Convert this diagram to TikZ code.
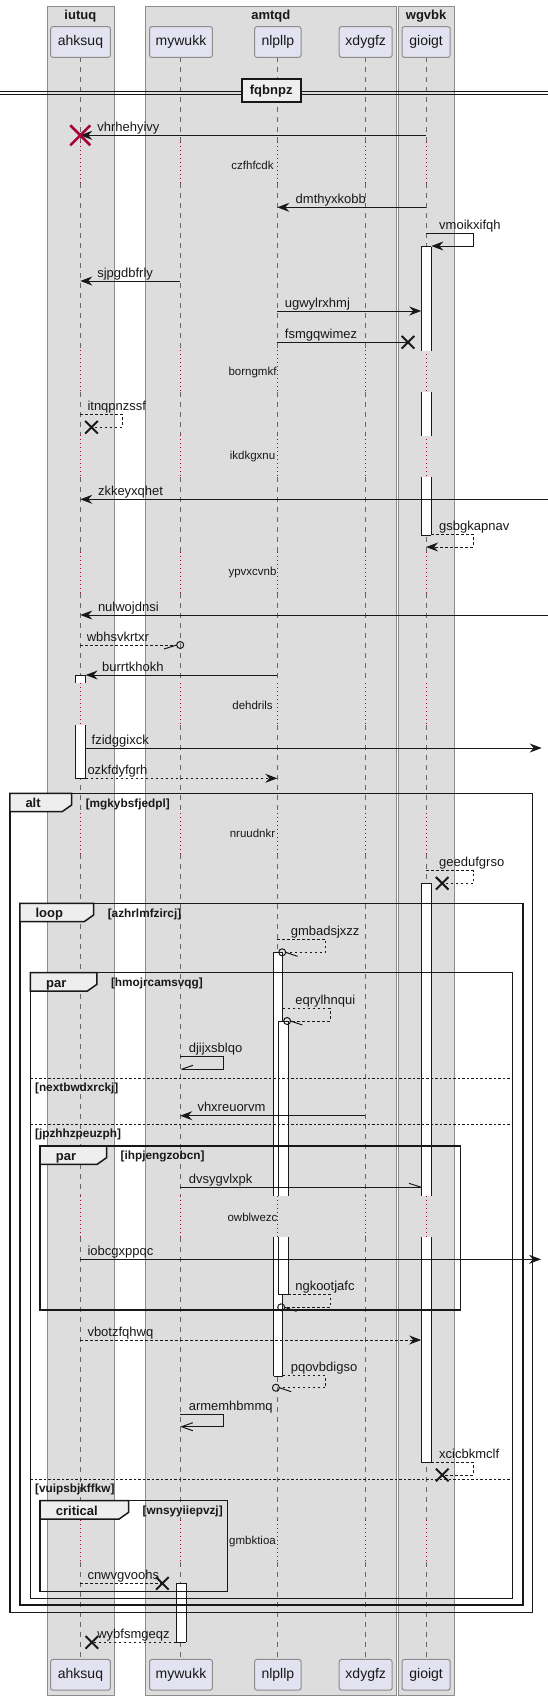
\documentclass[tikz,border=0pt]{standalone}
\usepackage{fontspec}
\setmainfont{Liberation Sans}
\usetikzlibrary{arrows.meta}
\definecolor{boxgray}{HTML}{DDDDDD}
\definecolor{boxline}{HTML}{8C8C8C}
\definecolor{partfill}{HTML}{E2E2F0}
\definecolor{partline}{HTML}{8C8C8C}
\definecolor{tabfill}{HTML}{EEEEEE}
\definecolor{delayred}{HTML}{A80036}
\definecolor{lifegray}{HTML}{666666}
\definecolor{ink}{HTML}{181818}
\newcommand{\fmsg}{\fontsize{13}{15}\selectfont}
\newcommand{\fdel}{\fontsize{11.5}{13}\selectfont}
\newcommand{\fgrd}{\fontsize{11.8}{13}\selectfont\bfseries}
\newcommand{\fttl}{\fontsize{13}{15}\selectfont\bfseries}
\newcommand{\fpart}{\fontsize{14}{16}\selectfont}
% X mark: name, x, y, half size, style
\newcommand{\xmk}[5]{\coordinate (#1) at (#2,#3);
  \draw[#5] ([shift={(-#4,-#4)}]#1) -- ([shift={(#4,#4)}]#1) ([shift={(-#4,#4)}]#1) -- ([shift={(#4,-#4)}]#1);}
% group frame: name, x0, y0, x1, y1, xt, title, guard
\newcommand{\grpfrm}[8]{%
  \draw[frm] (#2,#3) rectangle (#4,#5);
  \draw[tabshape] (#2,#3) -- (#6,#3) -- (#6,{#3+11.7}) -- ({#6-9.5},{#3+18.4}) -- (#2,{#3+18.4}) -- cycle;
  \node[anchor=base west,inner sep=0pt,font=\fttl,text=ink] (#1t) at ({#2+15.5},{#3+14.6}) {#7};
  \node[anchor=base west,inner sep=0pt,font=\fgrd,text=ink] (#1g) at ({#6+14},{#3+13.8}) {#8};}
% activation bar segment: x1, x2, ytop, ybot, top closed?, bottom closed?
\newcommand{\barseg}[6]{%
  \fill[white] (#1,#3) rectangle (#2,#4);
  \draw[barline] (#1,#3) -- (#1,#4) (#2,#3) -- (#2,#4);
  \ifnum#5=1 \draw[barline] (#1,#3) -- (#2,#3);\fi
  \ifnum#6=1 \draw[barline] (#1,#4) -- (#2,#4);\fi}
\begin{document}
\begin{tikzpicture}[x=1pt,y=-1pt,
  msg/.style={draw=ink,line width=1pt},
  dmsg/.style={msg,dash pattern=on 2.5pt off 2.5pt},
  head/.style={-{Stealth[length=12pt,width=9pt,inset=4pt]}},
  lbl/.style={anchor=base west,inner sep=0pt,font=\fmsg,text=ink},
  dlbl/.style={anchor=center,inner sep=0pt,font=\fdel,text=ink},
  part/.style={draw=partline,fill=partfill,rounded corners=2.5pt,line width=1pt,minimum height=30.8pt,inner sep=0pt,font=\fpart,text=ink},
  grpbox/.style={draw=boxline,fill=boxgray,line width=1pt,inner sep=0pt,anchor=north west},
  life/.style={draw=lifegray,line width=0.8pt,dash pattern=on 5pt off 5pt},
  dly/.style={draw=delayred,line width=1pt,dash pattern=on 1pt off 3pt},
  barline/.style={draw=ink,line width=1pt},
  frm/.style={draw=ink,line width=1.5pt},
  tabshape/.style={draw=ink,fill=tabfill,line width=1.5pt},
  sep/.style={draw=ink,line width=1pt,dash pattern=on 2.5pt off 2pt},
  xblack/.style={draw=ink,line width=2pt},
  xred/.style={draw=delayred,line width=2.5pt},
  oend/.style={draw=ink,line width=1pt},
]
\useasboundingbox (0,0) rectangle (548,1700);
\fill[white] (0,0) rectangle (548,1700);

% ---------- participant boxes ----------
\node[grpbox,minimum width=67.7pt,minimum height=1689.3pt] (bxI) at (46.5,6) {};
\node[grpbox,minimum width=251.1pt,minimum height=1689.3pt] (bxA) at (145.3,6) {};
\node[grpbox,minimum width=55.9pt,minimum height=1689.3pt] (bxW) at (398.2,6) {};
\node[anchor=base,inner sep=0pt,font=\fttl,text=ink] (tI) at (80.35,19.6) {iutuq};
\node[anchor=base,inner sep=0pt,font=\fttl,text=ink] (tA) at (270.85,19.6) {amtqd};
\node[anchor=base,inner sep=0pt,font=\fttl,text=ink] (tW) at (426.15,19.6) {wgvbk};

% ---------- lifelines ----------
\foreach \lx in {80.3,180.2,277.3,365.3,426.1}{
  \foreach \ya/\yb in {57.3/141.7,183.3/350,391.7/435,477.3/551.7,593.3/683.3,725/812.5,854/1195.7,1237.3/1520,1561.7/1659.3}
    \draw[life] (\lx,\ya) -- (\lx,\yb);
  \foreach \ya/\yb in {141.7/183.3,350/391.7,435/477.3,551.7/593.3,683.3/725,812.5/854,1195.7/1237.3,1520/1561.7}
    \draw[dly] (\lx,\ya) -- (\lx,\yb);
}

% ---------- delay texts ----------
\node[dlbl] (d1) at (252.5,165) {czfhfcdk};
\node[dlbl] (d2) at (252.5,372.7) {borngmkf};
\node[dlbl] (d3) at (252.5,456.7) {ikdkgxnu};
\node[dlbl] (d4) at (252.5,572.7) {ypvxcvnb};
\node[dlbl] (d5) at (252.5,705) {dehdrils};
\node[dlbl] (d6) at (252.5,833.3) {nruudnkr};
\node[dlbl] (d7) at (252.5,1217.3) {owblwezc};
\node[dlbl] (d8) at (252.5,1541.7) {gmbktioa};

% ---------- divider ----------
\coordinate (dvL) at (0,91); \coordinate (dvR) at (548,91);
\coordinate (dvL2) at (0,94.2); \coordinate (dvR2) at (548,94.2);
\draw[ink,line width=1pt] (dvL) -- (dvR) (dvL2) -- (dvR2);
\node[draw=ink,fill=tabfill,line width=2pt,minimum width=59pt,minimum height=23pt,inner sep=0pt,font=\fttl,text=ink] (dv) at (271.2,90.8) {fqbnpz};

% ---------- activation bars ----------
\barseg{421.2}{431.4}{246.7}{350.7}{1}{0}
\barseg{421.2}{431.4}{392}{435.7}{0}{0}
\barseg{421.2}{431.4}{477.3}{535}{0}{1}
\barseg{75.4}{85.6}{675}{683.3}{1}{0}
\barseg{75.4}{85.6}{725}{778.3}{0}{1}
\barseg{421.2}{431.4}{883.3}{1195.7}{1}{0}
\barseg{421.2}{431.4}{1237.3}{1462.7}{0}{1}
\barseg{273.5}{282.9}{952.3}{1195.7}{1}{0}
\barseg{273.5}{282.9}{1237.3}{1376}{0}{1}
\barseg{278.4}{288.2}{1021}{1195.7}{1}{0}
\barseg{278.4}{288.2}{1237.3}{1294.3}{0}{1}
\barseg{176.4}{186.2}{1583.3}{1642}{1}{1}

% ---------- frames ----------
\grpfrm{fa}{9.8}{793.3}{532.7}{1612.7}{71.6}{alt}{[mgkybsfjedpl]}
\grpfrm{fl}{19.9}{903.3}{522.9}{1605}{93.6}{loop}{[azhrlmfzircj]}
\grpfrm{fp}{30.4}{972.7}{512.4}{1598.3}{96.8}{par}{[hmojrcamsvqg]}
\coordinate (s1a) at (30.4,1078.3); \coordinate (s1b) at (512.4,1078.3);
\draw[sep] (s1a) -- (s1b);
\node[anchor=base west,inner sep=0pt,font=\fgrd,text=ink] (s1t) at (34.9,1091) {[nextbwdxrckj]};
\coordinate (s2a) at (30.4,1124.3); \coordinate (s2b) at (512.4,1124.3);
\draw[sep] (s2a) -- (s2b);
\node[anchor=base west,inner sep=0pt,font=\fgrd,text=ink] (s2t) at (34.9,1137) {[jpzhhzpeuzph]};
\coordinate (s3a) at (30.4,1479.3); \coordinate (s3b) at (512.4,1479.3);
\draw[sep] (s3a) -- (s3b);
\node[anchor=base west,inner sep=0pt,font=\fgrd,text=ink] (s3t) at (34.9,1492) {[vuipsbjkffkw]};
\grpfrm{fi}{40.2}{1146}{460.3}{1310}{106.5}{par}{[ihpjengzobcn]}
\grpfrm{fc}{40.2}{1500.7}{227.7}{1591.3}{128.5}{critical}{[wnsyyiiepvzj]}

% ---------- messages ----------
% 1
\coordinate (m1a) at (426.1,135.3); \coordinate (m1b) at (80.3,135.3);
\draw[msg,head] (m1a) -- (m1b);
\node[lbl] (l1) at (97.1,131.3) {vhrhehyivy};
\xmk{x1}{80.3}{135.3}{10}{xred}
% 2
\coordinate (m2a) at (426.1,207.3); \coordinate (m2b) at (277.3,207.3);
\draw[msg,head] (m2a) -- (m2b);
\node[lbl] (l2) at (295.5,203.3) {dmthyxkobb};
% 3
\coordinate (m3a) at (426.1,233.3); \coordinate (m3b) at (431.4,246);
\draw[msg,head] (m3a) -- (473.3,233.3) -- (473.3,246) -- (m3b);
\node[lbl] (l3) at (439,229.3) {vmoikxifqh};
% 4
\coordinate (m4a) at (180.2,281); \coordinate (m4b) at (80.3,281);
\draw[msg,head] (m4a) -- (m4b);
\node[lbl] (l4) at (97.1,277) {sjpgdbfrly};
% 5
\coordinate (m5a) at (277.3,311); \coordinate (m5b) at (421.2,311);
\draw[msg,head] (m5a) -- (m5b);
\node[lbl] (l5) at (284.7,307) {ugwylrxhmj};
% 6
\coordinate (m6a) at (277.3,342.3);
\xmk{x6}{408}{342.3}{6.3}{xblack}
\draw[msg] (m6a) -- (x6);
\node[lbl] (l6) at (284.7,338.3) {fsmgqwimez};
% 7
\coordinate (m7a) at (80.3,414.3);
\xmk{x7}{91.5}{427.3}{6.3}{xblack}
\draw[dmsg] (m7a) -- (122.2,414.3) -- (122.2,427.3) -- (x7);
\node[lbl] (l7) at (87.3,410.3) {itnqpnzssf};
% 8
\coordinate (m8a) at (548,499.3); \coordinate (m8b) at (80.3,499.3);
\draw[msg,head] (m8a) -- (m8b);
\node[lbl] (l8) at (97.8,495.3) {zkkeyxqhet};
% 9
\coordinate (m9a) at (431.4,534.3); \coordinate (m9b) at (426.1,547);
\draw[dmsg,head] (m9a) -- (473.3,534.3) -- (473.3,547) -- (m9b);
\node[lbl] (l9) at (439,530.3) {gsbgkapnav};
% 10
\coordinate (m10a) at (548,615); \coordinate (m10b) at (80.3,615);
\draw[msg,head] (m10a) -- (m10b);
\node[lbl] (l10) at (97.8,611) {nulwojdnsi};
% 11
\coordinate (m11a) at (80.3,645); \coordinate (m11b) at (176.7,645); \coordinate (o11) at (180.2,645);
\draw[dmsg] (m11a) -- (m11b);
\draw[oend] (o11) circle (3.5pt);
\draw[oend] (m11b) -- (164,649);
\node[lbl] (l11) at (86.6,641) {wbhsvkrtxr};
% 12
\coordinate (m12a) at (277.3,675); \coordinate (m12b) at (85.6,675);
\draw[msg,head] (m12a) -- (m12b);
\node[lbl] (l12) at (102,671) {burrtkhokh};
% 13
\coordinate (m13a) at (85.6,748); \coordinate (m13b) at (541.7,748);
\draw[msg,head] (m13a) -- (m13b);
\node[lbl] (l13) at (91.5,744) {fzidggixck};
% 14
\coordinate (m14a) at (85.6,778.3); \coordinate (m14b) at (277.3,778.3);
\draw[dmsg,head] (m14a) -- (m14b);
\node[lbl] (l14) at (87.3,774.3) {ozkfdyfgrh};
% 15
\coordinate (m15a) at (426.1,870.7);
\xmk{x15}{442.2}{883.3}{6.3}{xblack}
\draw[dmsg] (m15a) -- (473.3,870.7) -- (473.3,883.3) -- (x15);
\node[lbl] (l15) at (439,866.7) {geedufgrso};
% 16
\coordinate (m16a) at (277.3,939); \coordinate (m16b) at (285.7,952.3); \coordinate (o16) at (282.2,952.3);
\draw[dmsg] (m16a) -- (325.5,939) -- (325.5,952.3) -- (m16b);
\draw[oend] (o16) circle (3.5pt);
\draw[oend] (m16b) -- (297.5,956.3);
\node[lbl] (l16) at (290.6,935) {gmbadsjxzz};
% 17
\coordinate (m17a) at (282.9,1008.3); \coordinate (m17b) at (290.6,1021); \coordinate (o17) at (287.1,1021);
\draw[dmsg] (m17a) -- (330,1008.3) -- (330,1021) -- (m17b);
\draw[oend] (o17) circle (3.5pt);
\draw[oend] (m17b) -- (302.4,1025);
\node[lbl] (l17) at (295.1,1004.3) {eqrylhnqui};
% 18
\coordinate (m18a) at (180.2,1056.7); \coordinate (m18b) at (181.5,1069.3);
\draw[msg] (m18a) -- (223.5,1056.7) -- (223.5,1069.3) -- (m18b);
\draw[oend] (m18b) -- (193,1065.3);
\node[lbl] (l18) at (188.6,1052.7) {djijxsblqo};
% 19
\coordinate (m19a) at (365.3,1115.7); \coordinate (m19b) at (180.2,1115.7);
\draw[msg,head] (m19a) -- (m19b);
\node[lbl] (l19) at (197.3,1111.7) {vhxreuorvm};
% 20
\coordinate (m20a) at (180.2,1187.3); \coordinate (m20b) at (421.2,1187.3);
\draw[msg] (m20a) -- (m20b);
\draw[oend] (m20b) -- (409,1183.3);
\node[lbl] (l20) at (188.6,1183.3) {dvsygvlxpk};
% 21
\coordinate (m21a) at (80.3,1259.3); \coordinate (m21b) at (541,1259.3);
\draw[msg,head] (m21a) -- (m21b);
\node[lbl] (l21) at (87.3,1255.3) {iobcgxppqc};
% 22
\coordinate (m22a) at (288.2,1294.3); \coordinate (m22b) at (284.7,1307.3); \coordinate (o22) at (281.2,1307.3);
\draw[dmsg] (m22a) -- (330,1294.3) -- (330,1307.3) -- (m22b);
\draw[oend] (o22) circle (3.5pt);
\draw[oend] (m22b) -- (296.5,1311.3);
\node[lbl] (l22) at (295.1,1290.3) {ngkootjafc};
% 23
\coordinate (m23a) at (80.3,1340); \coordinate (m23b) at (421.2,1340);
\draw[dmsg,head] (m23a) -- (m23b);
\node[lbl] (l23) at (87.3,1336) {vbotzfqhwq};
% 24
\coordinate (m24a) at (282.9,1375.7); \coordinate (m24b) at (279.4,1387.7); \coordinate (o24) at (275.9,1387.7);
\draw[dmsg] (m24a) -- (325.5,1375.7) -- (325.5,1387.7) -- (m24b);
\draw[oend] (o24) circle (3.5pt);
\draw[oend] (m24b) -- (291.2,1391.7);
\node[lbl] (l24) at (290.6,1371.7) {pqovbdigso};
% 25
\coordinate (m25a) at (180.2,1414.3); \coordinate (m25b) at (181.6,1426.7);
\draw[msg] (m25a) -- (223.5,1414.3) -- (223.5,1426.7) -- (m25b);
\draw[oend] (192.8,1422.7) -- (m25b) -- (192.8,1430.7);
\node[lbl] (l25) at (188.6,1410.3) {armemhbmmq};
% 26
\coordinate (m26a) at (431.4,1462.3);
\xmk{x26}{442.2}{1475}{6.3}{xblack}
\draw[dmsg] (m26a) -- (473.3,1462.3) -- (473.3,1475) -- (x26);
\node[lbl] (l26) at (439,1458.3) {xcicbkmclf};
% 27
\coordinate (m27a) at (80.3,1583.3);
\xmk{x27}{162.4}{1583.3}{6.3}{xblack}
\draw[dmsg] (m27a) -- (x27);
\node[lbl] (l27) at (87.3,1579.3) {cnwvgvoohs};
% 28
\coordinate (m28a) at (176.4,1642.3);
\xmk{x28}{91.9}{1642.3}{6.3}{xblack}
\draw[dmsg] (m28a) -- (x28);
\node[lbl] (l28) at (97.1,1638.3) {wybfsmgeqz};

% ---------- participants ----------
\node[part,minimum width=59.8pt] (ahT) at (80.5,42) {ahksuq};
\node[part,minimum width=62.9pt] (myT) at (181,42) {mywukk};
\node[part,minimum width=46.5pt] (nlT) at (277.85,42) {nlpllp};
\node[part,minimum width=53pt] (xdT) at (365.7,42) {xdygfz};
\node[part,minimum width=48.2pt] (giT) at (426.1,42) {gioigt};
\node[part,minimum width=59.8pt] (ahB) at (80.5,1674.8) {ahksuq};
\node[part,minimum width=62.9pt] (myB) at (181,1674.8) {mywukk};
\node[part,minimum width=46.5pt] (nlB) at (277.85,1674.8) {nlpllp};
\node[part,minimum width=53pt] (xdB) at (365.7,1674.8) {xdygfz};
\node[part,minimum width=48.2pt] (giB) at (426.1,1674.8) {gioigt};
\end{tikzpicture}
\end{document}
